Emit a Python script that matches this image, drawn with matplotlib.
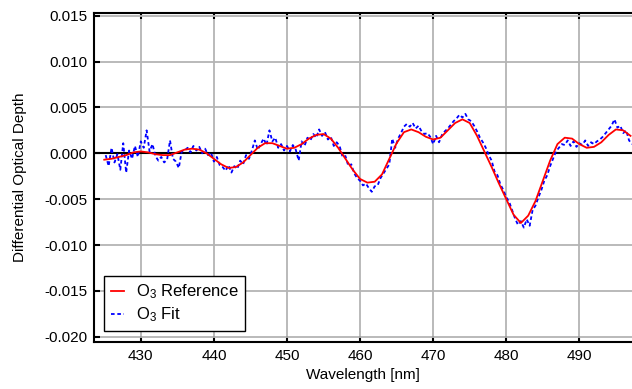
import numpy as np
import matplotlib
matplotlib.use("Agg")
import matplotlib.pyplot as plt

plt.rcParams['font.family'] = ['Liberation Sans', 'DejaVu Sans']
plt.rcParams['mathtext.fontset'] = 'custom'
plt.rcParams['mathtext.rm'] = 'Liberation Sans'
plt.rcParams['mathtext.it'] = 'Liberation Sans'

# O3 reference cross section, 1 nm steps from 425 to 497 nm (units of 1e-4)
ref_start, ref_stop = 425.0, 497.0
o3_reference = [
    -7, -6, -4, -2, 1, 2, 1, -1, -2, -2,
    1, 4, 5, 4, 0, -6, -12, -16, -15, -10,
    -2, 6, 11, 11, 8, 5, 6, 10, 16, 20,
    21, 16, 6, -6, -18, -28, -32, -31, -23, -6,
    11, 23, 26, 23, 18, 15, 17, 25, 33, 37,
    33, 19, 2, -15, -33, -50, -67, -76, -68, -52,
    -30, -8, 10, 17, 16, 10, 6, 7, 12, 20,
    26, 25, 19,
]

# O3 fit, 0.4 nm steps from 425.2 to 497.2 nm (units of 1e-4)
fit_start, fit_stop = 425.2, 497.2
o3_fit = [
    -2, -14, 6, -10, -1, -18, 11, -21, 3, -6,
    8, -4, 13, 6, 25, 2, 10, -3, -8, -4,
    -10, -7, 14, -6, -9, -16, 2, 3, 6, 1,
    8, 3, 7, 0, 5, -2, 1, -9, -4, -13,
    -15, -19, -13, -21, -14, -17, -8, -12, -2, -6,
    3, 14, 4, 10, 16, 9, 25, 13, 17, 6,
    10, 3, 8, 2, 9, 4, -8, 13, 8, 17,
    14, 21, 17, 26, 19, 23, 15, 18, 8, 12,
    8, -4, -3, -14, -12, -22, -27, -30, -35, -33,
    -38, -42, -36, -35, -27, -22, -17, -12, 16, 6,
    16, 22, 29, 32, 29, 33, 27, 30, 24, 21,
    22, 18, 10, 19, 12, 20, 24, 27, 31, 35,
    38, 42, 39, 43, 37, 35, 30, 24, 17, 12,
    6, -2, -8, -20, -24, -34, -40, -48, -53, -62,
    -71, -78, -74, -81, -72, -79, -62, -57, -48, -40,
    -30, -24, -14, -6, 2, 6, 10, 9, 14, 8,
    13, 7, 11, 9, 14, 8, 12, 10, 13, 15,
    18, 22, 26, 30, 37, 28, 30, 22, 25, 14,
    10,
]

x_ticks = [430, 440, 450, 460, 470, 480, 490]
y_ticks = [-0.020, -0.015, -0.010, -0.005, 0.000, 0.005, 0.010, 0.015]

ref_wl = np.linspace(ref_start, ref_stop, len(o3_reference))
fit_wl = np.linspace(fit_start, fit_stop, len(o3_fit))
ref_val = np.array(o3_reference) * 1e-4
fit_val = np.array(o3_fit) * 1e-4

fig = plt.figure(figsize=(6.32, 3.89), dpi=100)
ax = fig.add_axes([94 / 632, 47.3 / 389, 538 / 632, 328.4 / 389])

ax.grid(True, color='#b4b4b4', linewidth=1.3)
ax.set_axisbelow(True)
ax.axhline(0, color='black', linewidth=1.5, zorder=2)

ax.plot(ref_wl, ref_val, color='#ff0000', linewidth=1.3, label=r'O$_3$ Reference', zorder=4)
ax.plot(fit_wl, fit_val, color='#0000ff', linewidth=1.3, linestyle=(0, (2, 1.5)),
        label=r'O$_3$ Fit', zorder=3)

ax.set_xlim(423.6, 497.2)
ax.set_ylim(-0.02054, 0.01526)
ax.set_xticks(x_ticks)
ax.set_yticks(y_ticks)
ax.set_yticklabels(['%.3f' % v for v in y_ticks])

ax.tick_params(direction='in', length=4, width=1.5, labelsize=11, top=True, right=False,
               colors='black', pad=5)
for side in ['left', 'top', 'bottom']:
    ax.spines[side].set_linewidth(1.5)
ax.spines['right'].set_visible(False)

ax.set_xlabel('Wavelength [nm]', fontsize=11, labelpad=4)
ax.set_ylabel('Differential Optical Depth', fontsize=11, labelpad=12)

leg = ax.legend(loc='lower left', bbox_to_anchor=(10.3 / 538, 11 / 328.4), borderaxespad=0,
                fancybox=False, edgecolor='black', framealpha=1, fontsize=12,
                handlelength=0.8, handletextpad=0.7, labelspacing=0.25, borderpad=0.4)
leg.get_frame().set_linewidth(1.0)

fig.savefig('out.png', dpi=100)
